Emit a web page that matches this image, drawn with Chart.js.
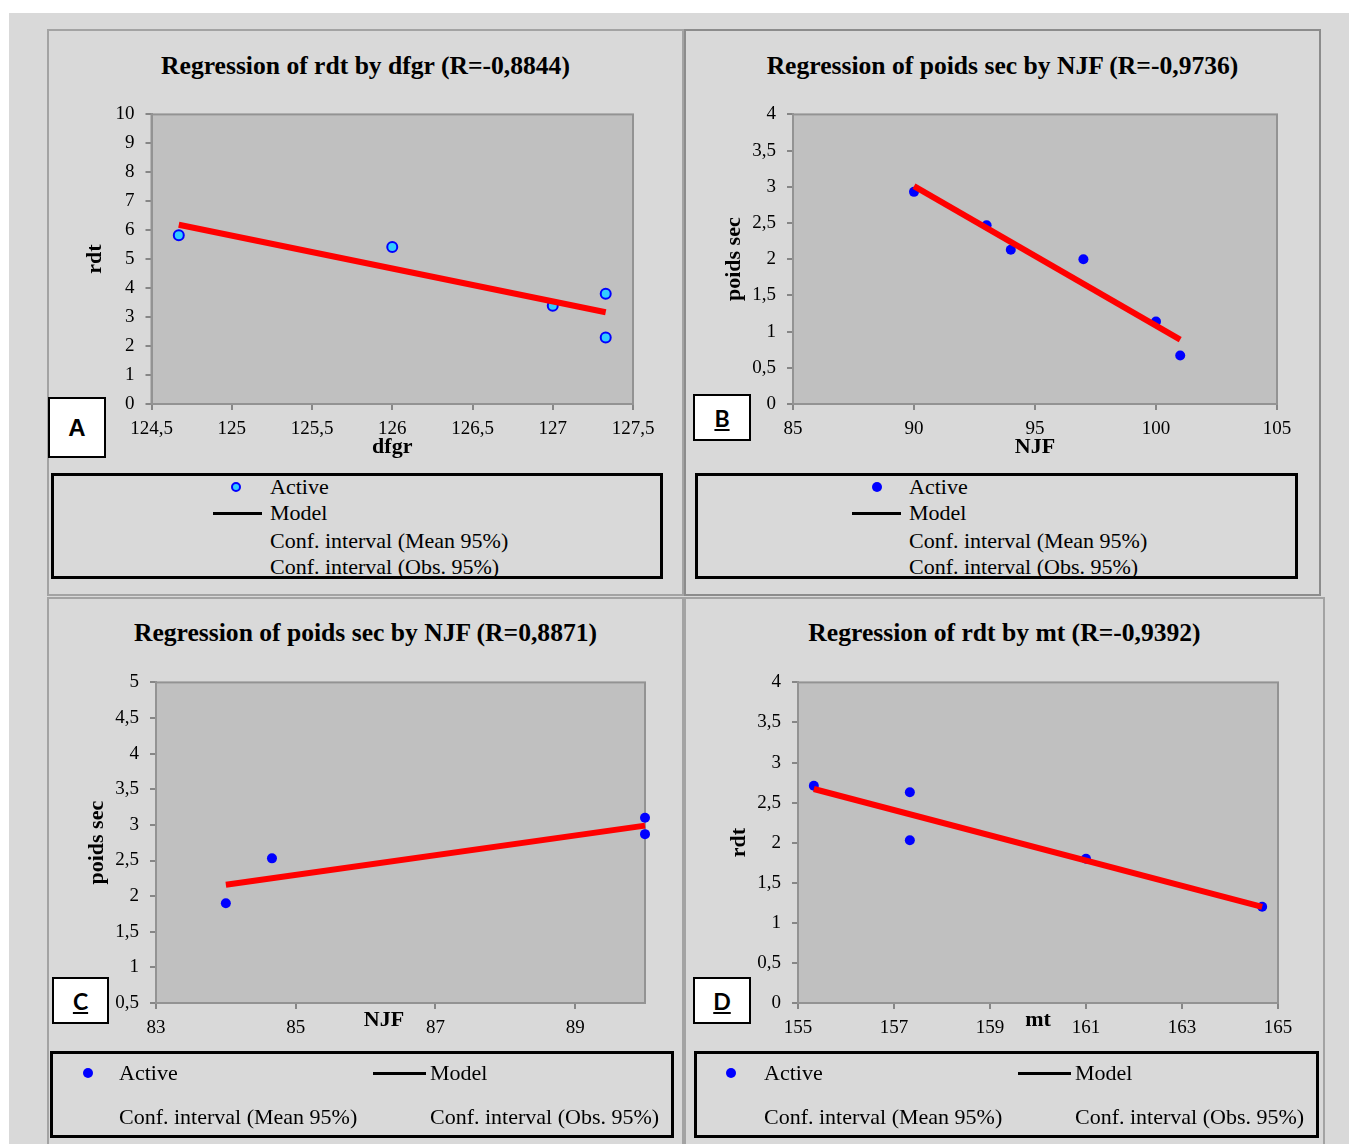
<!DOCTYPE html>
<html>
<head>
<meta charset="utf-8">
<script src="https://cdn.jsdelivr.net/npm/chart.js@4.4.0/dist/chart.umd.min.js"></script>
<style>
  body { margin: 0; width: 1349px; height: 1144px; overflow: hidden; position: relative; background: #fff; font-family: "Liberation Serif", serif; }
  #bg { position: absolute; left: 9px; top: 13px; right: 0; bottom: 0; background: #d9d9d9; }
  .panel { position: absolute; border: 2px solid #a3a3a3; box-sizing: border-box; }
  .title { position: absolute; font: bold 25.6px/30px "Liberation Serif", serif; text-align: center; white-space: nowrap; color: #000; }
  canvas { position: absolute; }
  .tag { position: absolute; background: #fff; border: 2px solid #000; box-sizing: border-box; display: flex; align-items: center; justify-content: center; font-weight: bold; color: #000; }
  .legend { position: absolute; border: 3px solid #000; box-sizing: border-box; }
  .lg { position: absolute; font: 22px/26px "Liberation Serif", serif; white-space: nowrap; color: #000; }
  .dot { position: absolute; width: 10px; height: 10px; border-radius: 50%; background: #0000ff; box-sizing: border-box; }
  .dash { position: absolute; height: 3px; background: #000; }
</style>
</head>
<body>
<div id="bg"></div>

<div class="panel" style="left:47px;top:29px;width:637px;height:567px"></div>
<div class="panel" style="left:684px;top:29px;width:637px;height:567px;border-color:#8c8c8c"></div>
<div class="panel" style="left:47px;top:597px;width:637px;height:570px"></div>
<div class="panel" style="left:684px;top:597px;width:641px;height:570px"></div>

<div class="title" style="left:47px;top:51px;width:637px">Regression of rdt by dfgr (R=-0,8844)</div>
<div class="title" style="left:684px;top:51px;width:637px">Regression of poids sec by NJF (R=-0,9736)</div>
<div class="title" style="left:47px;top:618px;width:637px">Regression of poids sec by NJF (R=0,8871)</div>
<div class="title" style="left:684px;top:618px;width:641px">Regression of rdt by mt (R=-0,9392)</div>

<canvas id="chartA" width="637" height="372" style="left:47px;top:92px"></canvas>
<canvas id="chartB" width="637" height="372" style="left:684px;top:92px"></canvas>
<canvas id="chartC" width="637" height="403" style="left:47px;top:660px"></canvas>
<canvas id="chartD" width="641" height="403" style="left:684px;top:660px"></canvas>

<div class="tag" style="left:48px;top:397px;width:58px;height:61px;font:bold 24px 'Liberation Sans',sans-serif">A</div>
<div class="tag" style="left:693px;top:394px;width:58px;height:47px;font:bold 23px Lato,sans-serif;text-decoration:underline">B</div>
<div class="tag" style="left:52px;top:977px;width:57px;height:47px;font:bold 23px Lato,sans-serif;text-decoration:underline">C</div>
<div class="tag" style="left:693px;top:977px;width:58px;height:47px;font:bold 23px Lato,sans-serif;text-decoration:underline">D</div>

<!-- legend A -->
<div class="legend" style="left:51px;top:473px;width:612px;height:106px"></div>
<div class="dot" style="left:231px;top:482px;background:#33ccff;border:2px solid #0000ff"></div>
<div class="lg" style="left:270px;top:474px">Active</div>
<div class="dash" style="left:213px;top:512px;width:49px"></div>
<div class="lg" style="left:270px;top:500px">Model</div>
<div class="lg" style="left:270px;top:528px">Conf. interval (Mean 95%)</div>
<div class="lg" style="left:270px;top:554px">Conf. interval (Obs. 95%)</div>

<!-- legend B -->
<div class="legend" style="left:695px;top:473px;width:603px;height:106px"></div>
<div class="dot" style="left:872px;top:482px"></div>
<div class="lg" style="left:909px;top:474px">Active</div>
<div class="dash" style="left:852px;top:512px;width:49px"></div>
<div class="lg" style="left:909px;top:500px">Model</div>
<div class="lg" style="left:909px;top:528px">Conf. interval (Mean 95%)</div>
<div class="lg" style="left:909px;top:554px">Conf. interval (Obs. 95%)</div>

<!-- legend C -->
<div class="legend" style="left:50px;top:1051px;width:624px;height:87px"></div>
<div class="dot" style="left:83px;top:1068px"></div>
<div class="lg" style="left:119px;top:1060px">Active</div>
<div class="dash" style="left:373px;top:1072px;width:53px"></div>
<div class="lg" style="left:430px;top:1060px">Model</div>
<div class="lg" style="left:119px;top:1104px">Conf. interval (Mean 95%)</div>
<div class="lg" style="left:430px;top:1104px">Conf. interval (Obs. 95%)</div>

<!-- legend D -->
<div class="legend" style="left:694px;top:1051px;width:625px;height:87px"></div>
<div class="dot" style="left:726px;top:1068px"></div>
<div class="lg" style="left:764px;top:1060px">Active</div>
<div class="dash" style="left:1018px;top:1072px;width:53px"></div>
<div class="lg" style="left:1075px;top:1060px">Model</div>
<div class="lg" style="left:764px;top:1104px">Conf. interval (Mean 95%)</div>
<div class="lg" style="left:1075px;top:1104px">Conf. interval (Obs. 95%)</div>

<script>
// A : rdt vs dfgr
const dfgr = [124.67, 126.0, 127.0, 127.33, 127.33];
const rdtA = [5.83, 5.42, 3.39, 3.81, 2.30];
const modelDfgr = [124.67, 127.33];
const modelRdtA = [6.19, 3.17];
const ticksDfgr = [124.5, 125, 125.5, 126, 126.5, 127, 127.5];
const ticksRdtA = [0, 1, 2, 3, 4, 5, 6, 7, 8, 9, 10];

// B : poids sec vs NJF
const njfB = [90, 93, 94, 97, 100, 101];
const poidsB = [2.93, 2.47, 2.13, 2.00, 1.14, 0.67];
const modelNjfB = [90, 101];
const modelPoidsB = [3.01, 0.89];
const ticksNjfB = [85, 90, 95, 100, 105];
const ticksPoidsB = [0, 0.5, 1, 1.5, 2, 2.5, 3, 3.5, 4];

// C : poids sec vs NJF
const njfC = [84.0, 84.66, 90.0, 90.0];
const poidsC = [1.90, 2.53, 3.10, 2.87];
const modelNjfC = [84.0, 90.0];
const modelPoidsC = [2.16, 2.99];
const ticksNjfC = [83, 85, 87, 89];
const ticksPoidsC = [0.5, 1, 1.5, 2, 2.5, 3, 3.5, 4, 4.5, 5];

// D : rdt vs mt
const mt = [155.33, 157.33, 157.33, 161.0, 164.67];
const rdtD = [2.71, 2.63, 2.03, 1.80, 1.20];
const modelMt = [155.33, 164.67];
const modelRdtD = [2.67, 1.20];
const ticksMt = [155, 157, 159, 161, 163, 165];
const ticksRdtD = [0, 0.5, 1, 1.5, 2, 2.5, 3, 3.5, 4];

Chart.defaults.font.family = "'Liberation Serif', serif";
Chart.defaults.color = '#000';

// grey plot area with its frame
const plotFrame = {
  id: 'plotFrame',
  beforeDraw(chart) {
    const { ctx, chartArea: a } = chart;
    ctx.save();
    ctx.fillStyle = '#c0c0c0';
    ctx.fillRect(a.left, a.top, a.right - a.left, a.bottom - a.top);
    ctx.restore();
  },
  beforeDatasetsDraw(chart) {
    const { ctx, chartArea: a } = chart;
    ctx.save();
    ctx.strokeStyle = '#939393';
    ctx.lineWidth = 2;
    ctx.strokeRect(a.left, a.top, a.right - a.left, a.bottom - a.top);
    ctx.restore();
  }
};

function toPoints(xs, ys) {
  return xs.map((x, i) => ({ x: x, y: ys[i] }));
}

function commaLabel(v) {
  return String(v).replace('.', ',');
}

function regressionChart(id, s) {
  const data = {
    datasets: [{
      label: 'Model',
      data: toPoints(s.mx, s.my),
      showLine: true,
      borderColor: '#ff0000',
      borderWidth: 6,
      pointRadius: 0,
      clip: false,
      order: 0
    }, {
      label: 'Active',
      data: toPoints(s.x, s.y),
      showLine: false,
      pointRadius: 5,
      pointBackgroundColor: s.fill,
      pointBorderColor: '#0000ff',
      pointBorderWidth: s.fill === '#0000ff' ? 0 : 2,
      clip: false,
      order: 1
    }]
  };

  const config = {
    type: 'scatter',
    data: data,
    plugins: [plotFrame],
    options: {
      responsive: false,
      animation: false,
      layout: { padding: { top: 20, left: 0, right: s.padRight, bottom: 0 } },
      plugins: { legend: { display: false }, tooltip: { enabled: false } },
      scales: {
        x: {
          type: 'linear',
          min: s.xTicks[0],
          max: s.xMax,
          afterBuildTicks: function (scale) {
            scale.ticks = s.xTicks.map(v => ({ value: v }));
          },
          afterFit: function (scale) { scale.height = 60; },
          grid: { drawOnChartArea: false, drawTicks: true, tickLength: 6, color: '#868686', lineWidth: 2 },
          border: { display: true, color: '#939393', width: 2 },
          ticks: { padding: 8, font: { size: 19 }, maxRotation: 0, autoSkip: false, callback: commaLabel },
          title: { display: true, text: s.xTitle, font: { size: 22, weight: 'bold' }, padding: { top: 0, bottom: s.xTitlePad } }
        },
        y: {
          type: 'linear',
          min: s.yTicks[0],
          max: s.yTicks[s.yTicks.length - 1],
          afterBuildTicks: function (scale) {
            scale.ticks = s.yTicks.map(v => ({ value: v }));
          },
          afterFit: function (scale) { scale.width = s.yWidth; },
          grid: { drawOnChartArea: false, drawTicks: true, tickLength: 6, color: '#868686', lineWidth: 2 },
          border: { display: true, color: '#939393', width: 2 },
          ticks: { padding: 11, font: { size: 19 }, autoSkip: false, callback: commaLabel },
          title: { display: true, text: s.yTitle, font: { size: 22, weight: 'bold' }, padding: { top: s.yTitlePad, bottom: 0 } }
        }
      }
    }
  };

  return new Chart(document.getElementById(id), config);
}

regressionChart('chartA', {
  x: dfgr, y: rdtA, mx: modelDfgr, my: modelRdtA, fill: '#33ccff',
  xTicks: ticksDfgr, xMax: 127.5, yTicks: ticksRdtA,
  xTitle: 'dfgr', yTitle: 'rdt',
  padRight: 51, yWidth: 104.5, yTitlePad: 35, xTitlePad: 3
});

regressionChart('chartB', {
  x: njfB, y: poidsB, mx: modelNjfB, my: modelPoidsB, fill: '#0000ff',
  xTicks: ticksNjfB, xMax: 105, yTicks: ticksPoidsB,
  xTitle: 'NJF', yTitle: 'poids sec',
  padRight: 44, yWidth: 109, yTitlePad: 37, xTitlePad: 3
});

regressionChart('chartC', {
  x: njfC, y: poidsC, mx: modelNjfC, my: modelPoidsC, fill: '#0000ff',
  xTicks: ticksNjfC, xMax: 90, yTicks: ticksPoidsC,
  xTitle: 'NJF      ', yTitle: 'poids sec',
  padRight: 39, yWidth: 109, yTitlePad: 37, xTitlePad: 29
});

regressionChart('chartD', {
  x: mt, y: rdtD, mx: modelMt, my: modelRdtD, fill: '#0000ff',
  xTicks: ticksMt, xMax: 165, yTicks: ticksRdtD,
  xTitle: 'mt', yTitle: 'rdt',
  padRight: 47, yWidth: 114, yTitlePad: 42, xTitlePad: 29
});
</script>
</body>
</html>
